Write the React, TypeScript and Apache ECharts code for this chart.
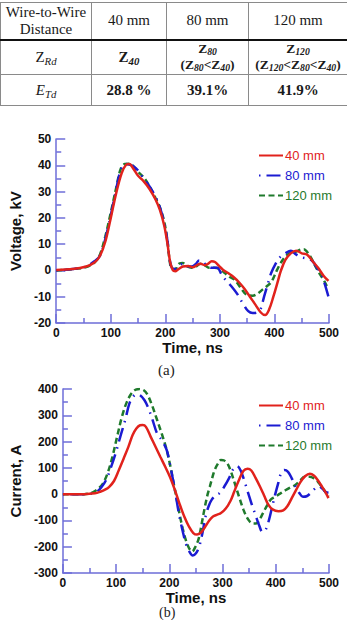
import React, { useEffect, useRef } from "react";
import * as echarts from "echarts";

// ---- data: [time (ns), value] ----
const voltage40: [number, number][] = [
  [0, 0.2], [30, 0.5], [55, 1.5], [70, 3], [80, 5.5], [90, 11], [100, 20], [110, 29.5],
  [120, 37], [128, 40.2], [134, 40.5], [142, 38.5], [150, 36], [160, 34], [171, 31],
  [182, 27], [190, 23], [198, 17], [204, 10], [209, 3], [214, 0], [218, -0.3], [224, 0.5],
  [232, 1.5], [242, 1.7], [250, 1.2], [258, 2], [265, 2.5], [272, 2], [278, 2.5], [285, 3.5],
  [291, 3.2], [298, 1.8], [306, 0.2], [315, -1], [325, -2.5], [335, -4.5], [345, -7],
  [355, -10], [365, -13], [375, -16], [383, -17], [390, -15], [398, -10], [405, -5],
  [412, 0], [420, 4], [430, 6.5], [440, 7.5], [450, 6.5], [460, 6], [470, 3.5], [480, 1],
  [490, -2], [499, -4],
];
const voltage80: [number, number][] = [
  [0, 0], [30, 0.5], [55, 1.5], [70, 3.5], [80, 5.5], [90, 12], [100, 21], [110, 31],
  [118, 38], [126, 40.5], [134, 40.3], [142, 39.5], [150, 38], [160, 35], [171, 32],
  [182, 28], [190, 24], [198, 18], [204, 11], [208, 4], [212, 1], [218, 0.5], [225, 2],
  [232, 2.5], [240, 1.5], [248, 1.5], [256, 2.5], [262, 3.8], [268, 3.5], [275, 2],
  [285, 1], [295, 1], [303, -1.5], [310, -3.5], [321, -6], [332, -9], [342, -12.5],
  [352, -15.5], [360, -16.2], [368, -16], [374, -15], [381, -10], [388, -5], [394, -1],
  [402, 2.5], [410, 5], [420, 6.5], [430, 7.5], [440, 6], [450, 5], [460, 4.5], [470, 3.5],
  [478, 1], [485, -1], [492, -5], [499, -10],
];
const voltage120: [number, number][] = [
  [0, 0], [30, 0.5], [55, 1.3], [70, 3], [80, 6], [90, 13], [100, 22], [110, 31.5],
  [118, 38.5], [126, 40.5], [134, 40.6], [142, 39.5], [150, 37.5], [160, 35.5], [171, 32],
  [182, 27.5], [190, 24], [198, 18.5], [204, 11], [208, 3.5], [212, 0.5], [218, 0.5],
  [225, 2.5], [232, 2.8], [240, 1.5], [248, 1], [256, 1.5], [264, 2.5], [272, 2], [280, 1],
  [290, 1], [300, 0.5], [309, -1], [318, -2.5], [327, -3.5], [336, -6], [345, -8.5],
  [352, -9.5], [360, -9.6], [368, -9], [378, -7.3], [386, -6], [394, -4.5], [400, -2],
  [405, 0.3], [412, 3], [420, 5.3], [430, 6.8], [438, 7], [446, 7.8], [454, 8.1], [460, 7],
  [468, 4.5], [474, 2], [482, -1], [490, -3.5], [496, -6], [499, -7],
];

const current40: [number, number][] = [
  [0, 0], [40, 0], [60, 3], [70, 9], [80, 18], [87, 28], [96, 50], [105, 91], [114, 135],
  [123, 180], [131, 225], [138, 250], [145, 262], [150, 263], [156, 256], [165, 218],
  [174, 180], [183, 142], [192, 105], [201, 66], [210, 18], [219, -36], [228, -85],
  [237, -124], [245, -148], [252, -154], [260, -145], [267, -125], [275, -100], [282, -85],
  [290, -78], [297, -72], [306, -55], [315, -25], [322, 10], [330, 50], [339, 88],
  [347, 97], [354, 90], [362, 62], [370, 30], [378, -5], [386, -40], [394, -58],
  [405, -65], [414, -62], [422, -45], [430, -15], [438, 15], [446, 45], [455, 68],
  [464, 78], [472, 70], [480, 50], [488, 25], [494, 5], [499, -15],
];
const current80: [number, number][] = [
  [0, 0], [40, 0], [55, 3], [63, 8], [72, 25], [81, 53], [90, 100], [99, 155], [108, 220],
  [117, 282], [125, 345], [132, 371], [138, 380], [145, 376], [153, 358], [160, 330],
  [168, 285], [177, 231], [186, 205], [195, 168], [201, 115], [207, 53], [213, -15],
  [219, -86], [225, -140], [231, -188], [238, -220], [244, -233], [250, -225], [256, -200],
  [262, -150], [268, -85], [274, -45], [280, -20], [287, -5], [295, 5], [303, 28],
  [312, 60], [320, 95], [327, 107], [334, 90], [341, 50], [348, 5], [355, -40], [362, -80],
  [369, -120], [375, -144], [381, -135], [387, -100], [393, -50], [399, 0], [405, 45],
  [410, 80], [416, 92], [423, 85], [430, 60], [437, 30], [444, 5], [451, -10], [458, -8],
  [466, 5], [474, 22], [481, 30], [488, 20], [494, 8], [499, 5],
];
const current120: [number, number][] = [
  [0, 0], [40, 0], [50, 3], [57, 8], [66, 20], [75, 40], [84, 80], [93, 142], [102, 220],
  [111, 295], [120, 350], [129, 384], [137, 398], [144, 400], [152, 395], [159, 378],
  [168, 335], [177, 282], [186, 228], [195, 168], [201, 115], [207, 53], [213, -10],
  [219, -74], [225, -130], [231, -175], [237, -205], [243, -218], [249, -200], [255, -170],
  [261, -110], [267, -46], [272, 0], [276, 28], [281, 65], [285, 91], [291, 115],
  [297, 130], [303, 128], [309, 117], [315, 90], [321, 53], [327, 15], [333, -23],
  [339, -58], [345, -86], [351, -104], [357, -112], [363, -112], [369, -99], [376, -72],
  [384, -42], [391, -20], [399, -10], [408, 2], [418, 15], [427, 25], [436, 34],
  [445, 50], [454, 66], [463, 66], [472, 60], [479, 48], [484, 34], [492, 12], [499, -10],
];

const seriesNames = ["40 mm", "80 mm", "120 mm"];
const voltageSets = [voltage40, voltage80, voltage120];
const currentSets = [current40, current80, current120];

const RED = "#e1221c";
const BLUE = "#1b1bd2";
const GREEN = "#1f7a2c";
const AXIS = "#6e6ed8";
const lineColors = [RED, BLUE, GREEN];
// solid, dot + long dash, short dash
const lineDashes: any[] = ["solid", [1.5, 6, 14, 6], [6, 3.5]];

const SANS = "'Liberation Sans', Arial, sans-serif";
const SERIF = "'Liberation Serif', 'Times New Roman', serif";

const GRID_LEFT = 52;
const GRID_WIDTH = 277;
const GRID_HEIGHT = 184;
const GRID_TOPS = [139, 389];

function xAxisFor(gridIndex: number) {
  return {
    gridIndex,
    type: "value",
    min: 0,
    max: 500,
    interval: 100,
    name: "Time, ns",
    nameLocation: "middle",
    nameGap: 17,
    nameTextStyle: { fontFamily: SANS, fontWeight: "bold", fontSize: 15, color: "#111" },
    axisLine: { show: true, onZero: false, lineStyle: { color: AXIS, width: 1.5 } },
    axisTick: { show: true, inside: true, length: 9, lineStyle: { color: AXIS, width: 1.5 } },
    minorTick: { show: true, splitNumber: 2, length: 5, lineStyle: { color: AXIS, width: 1.5 } },
    splitLine: { show: false },
    axisLabel: { margin: 4, fontFamily: SANS, fontWeight: "bold", fontSize: 12, color: "#111" },
  };
}

function yAxisFor(gridIndex: number, name: string, min: number, max: number, interval: number) {
  return {
    gridIndex,
    type: "value",
    min,
    max,
    interval,
    name,
    nameLocation: "middle",
    nameRotate: 90,
    nameGap: 29,
    nameTextStyle: { fontFamily: SANS, fontWeight: "bold", fontSize: 15, color: "#111" },
    axisLine: { show: true, onZero: false, lineStyle: { color: AXIS, width: 1.5 } },
    axisTick: { show: true, inside: true, length: 9, lineStyle: { color: AXIS, width: 1.5 } },
    minorTick: { show: true, splitNumber: 2, length: 5, lineStyle: { color: AXIS, width: 1.5 } },
    splitLine: { show: false },
    axisLabel: { margin: 5, fontFamily: SANS, fontWeight: "bold", fontSize: 12, color: "#111" },
  };
}

function legendFor(top: number) {
  return {
    orient: "vertical",
    left: 253,
    top,
    itemWidth: 24,
    itemHeight: 14,
    itemGap: 7,
    selectedMode: false,
    itemStyle: { opacity: 0 },
    textStyle: { fontFamily: SANS, fontSize: 13, padding: [0, 0, 0, -3] },
    data: seriesNames.map((name, i) => ({ name, textStyle: { color: lineColors[i] } })),
  };
}

function lineSeries(sets: [number, number][][], axisIndex: number) {
  return sets.map((data, i) => ({
    name: seriesNames[i],
    type: "line",
    xAxisIndex: axisIndex,
    yAxisIndex: axisIndex,
    data,
    smooth: 0.35,
    symbol: "none",
    lineStyle: { color: lineColors[i], width: 2.5, type: lineDashes[i] },
    itemStyle: { color: lineColors[i] },
    z: 3 - i,
  }));
}

const cell: React.CSSProperties = {
  border: "1px solid #8a8a8a",
  textAlign: "center",
  verticalAlign: "middle",
  padding: 0,
  color: "#1a1a1a",
};

function Sub({ children }: { children: React.ReactNode }) {
  return (
    <sub style={{ fontStyle: "italic", fontSize: "0.72em", verticalAlign: "-0.25em", lineHeight: 0 }}>
      {children}
    </sub>
  );
}

function ParamTable() {
  const headCell = { ...cell, borderBottom: "2.5px solid #111" };
  return (
    <table
      style={{
        position: "absolute",
        left: 0,
        top: 2,
        width: 347,
        borderCollapse: "collapse",
        tableLayout: "fixed",
        fontFamily: SERIF,
        fontSize: 15,
        lineHeight: 1.12,
      }}
    >
      <colgroup>
        <col style={{ width: 91 }} />
        <col style={{ width: 75 }} />
        <col style={{ width: 82 }} />
        <col style={{ width: 99 }} />
      </colgroup>
      <tbody>
        <tr style={{ height: 37 }}>
          <td style={headCell}>
            Wire-to-Wire
            <br />
            Distance
          </td>
          <td style={headCell}>40 mm</td>
          <td style={headCell}>80 mm</td>
          <td style={headCell}>120 mm</td>
        </tr>
        <tr style={{ height: 35 }}>
          <td style={cell}>
            Z<Sub>Rd</Sub>
          </td>
          <td style={{ ...cell, fontWeight: "bold" }}>
            Z<Sub>40</Sub>
          </td>
          <td style={{ ...cell, fontWeight: "bold", fontSize: 13.5, lineHeight: 1.2 }}>
            Z<Sub>80</Sub>
            <br />
            (Z<Sub>80</Sub>&lt;Z<Sub>40</Sub>)
          </td>
          <td style={{ ...cell, fontWeight: "bold", fontSize: 13.5, lineHeight: 1.2 }}>
            Z<Sub>120</Sub>
            <br />
            (Z<Sub>120</Sub>&lt;Z<Sub>80</Sub>&lt;Z<Sub>40</Sub>)
          </td>
        </tr>
        <tr style={{ height: 31 }}>
          <td style={{ ...cell, fontStyle: "italic" }}>
            E<Sub>Td</Sub>
          </td>
          <td style={{ ...cell, fontWeight: "bold" }}>28.8 %</td>
          <td style={{ ...cell, fontWeight: "bold" }}>39.1%</td>
          <td style={{ ...cell, fontWeight: "bold" }}>41.9%</td>
        </tr>
      </tbody>
    </table>
  );
}

export default function App() {
  const chartRef = useRef<HTMLDivElement | null>(null);

  useEffect(() => {
    if (!chartRef.current) return;
    const chart = echarts.init(chartRef.current, null, { renderer: "svg" });
    chart.setOption({
      animation: false,
      backgroundColor: "transparent",
      grid: GRID_TOPS.map((top) => ({
        left: GRID_LEFT,
        top,
        width: GRID_WIDTH,
        height: GRID_HEIGHT,
        containLabel: false,
      })),
      xAxis: [xAxisFor(0), xAxisFor(1)],
      yAxis: [
        yAxisFor(0, "Voltage, kV", -20, 50, 10),
        yAxisFor(1, "Current, A", -300, 400, 100),
      ],
      legend: [legendFor(144), legendFor(394)],
      series: [...lineSeries(voltageSets, 0), ...lineSeries(currentSets, 1)],
      graphic: [
        {
          type: "text",
          left: 158,
          top: 362,
          style: { text: "(a)", font: `15px ${SERIF}`, fill: "#222" },
        },
        {
          type: "text",
          left: 159,
          top: 605,
          style: { text: "(b)", font: `14px ${SERIF}`, fill: "#222" },
        },
      ],
    });
    return () => chart.dispose();
  }, []);

  return (
    <div style={{ position: "absolute", left: 0, top: 0, width: 347, height: 620, background: "#fff" }}>
      <ParamTable />
      <div ref={chartRef} style={{ position: "absolute", left: 0, top: 0, width: 347, height: 620 }} />
    </div>
  );
}
